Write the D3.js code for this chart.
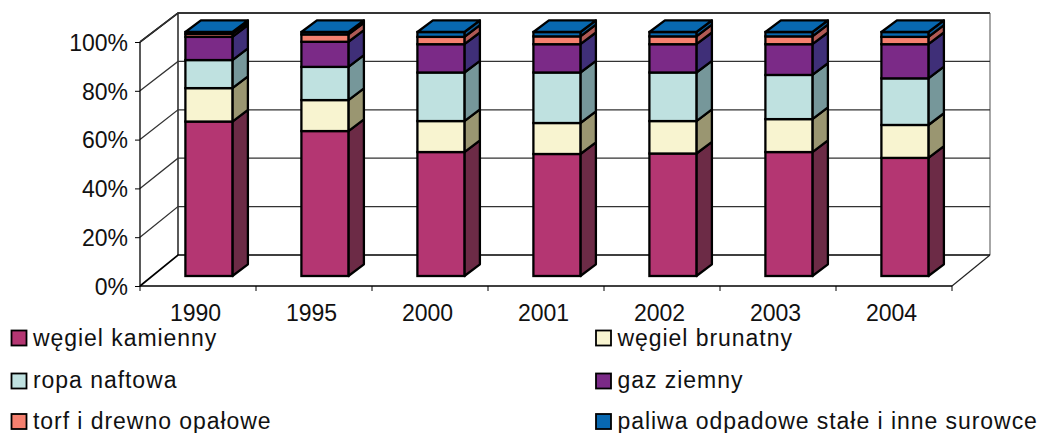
<!DOCTYPE html>
<html><head><meta charset="utf-8">
<script src="https://d3js.org/d3.v7.min.js"></script>
<style>html,body{margin:0;padding:0;background:#fff}svg{display:block}text{font-family:"Liberation Sans",Arial,sans-serif;fill:#111}</style>
</head><body><div id="c"></div>
<script>
const years=["1990","1995","2000","2001","2002","2003","2004"];
const seriesNames=["węgiel kamienny","węgiel brunatny","ropa naftowa","gaz ziemny","torf i drewno opałowe","paliwa odpadowe stałe i inne surowce"];
const wegielKamienny=[63.3,59.4,50.8,50.0,50.2,50.8,48.4];
const wegielBrunatny=[13.7,12.7,12.7,12.7,13.3,13.5,13.5];
const ropaNaftowa=[11.5,13.6,19.9,20.7,19.9,18.1,19.1];
const gazZiemny=[9.5,10.3,11.6,11.6,11.6,12.6,14.0];
const torf=[1.2,3.0,3.0,3.2,3.2,3.2,3.0];
const paliwa=[0.8,1.0,2.0,1.8,1.8,1.8,2.0];
const tickValues=[0,20,40,60,80,100];
const faceColors=["#B43672","#F8F4D0","#BFE1E0","#7B2A87","#F5806F","#0868B0"];
const sideColors=["#6C2B46","#9A9671","#76979A","#3F2F78","#B05A55","#0A5A96"];
const W=1042,H=433;
const svg=d3.select("#c").append("svg").attr("width",W).attr("height",H);
const values=[wegielKamienny,wegielBrunatny,ropaNaftowa,gazZiemny,torf,paliwa];
const table=years.map((y,i)=>{const r={year:y};seriesNames.forEach((s,k)=>r[s]=values[k][i]);return r;});
const stacked=d3.stack().keys(seriesNames)(table);
// axes geometry
const xF=d3.scaleBand().domain(years).range([140,952]);
const yF=d3.scaleLinear().domain([0,100]).range([286,42]);
const yB=d3.scaleLinear().domain([0,100]).range([255,13]);
const yBar=d3.scaleLinear().domain([0,100]).range([276,32]);
const backDx=38,barW=47,barDx=15.5,barDy=11.7;
const barX=y=>xF(y)+45.4;
const g=svg.append("g");
// walls
g.append("path").attr("fill","none").attr("stroke","#000").attr("stroke-width",1.6)
 .attr("d",`M${140},${yF(100)}L${140+backDx},${yB(100)}L${952+backDx},${yB(100)}`);
g.append("line").attr("x1",140+backDx).attr("x2",140+backDx).attr("y1",yB(100)).attr("y2",yB(0)).attr("stroke","#000").attr("stroke-width",1.3);
g.append("line").attr("x1",952+backDx).attr("x2",952+backDx).attr("y1",yB(100)).attr("y2",yB(0)).attr("stroke","#777").attr("stroke-width",1.3);
g.selectAll(".grid").data(tickValues).join("path").attr("class","grid").attr("fill","none")
 .attr("stroke",d=>d===0?"#000":"#333").attr("stroke-width",d=>d===0?1.7:1.3)
 .attr("d",d=>`M140,${yF(d)}L${140+backDx},${yB(d)}L${952+backDx},${yB(d)}`);
g.append("line").attr("x1",952).attr("x2",952+backDx).attr("y1",yF(0)).attr("y2",yB(0)).attr("stroke","#222").attr("stroke-width",1.2);
const font='"Liberation Sans",Arial,sans-serif';
// y axis
const ax=svg.append("g").attr("transform","translate(140,0)").call(d3.axisLeft(yF).tickValues(tickValues).tickSize(5).tickFormat(d=>d+"%"));
ax.select(".domain").attr("stroke","#000").attr("stroke-width",1.3).attr("d",`M0,${yF(100)}V${yF(0)}`);
ax.selectAll("line").attr("stroke","#000");
ax.selectAll("text").attr("font-size",23).attr("x",-12).attr("dy","0.36em").style("font-family",font);
// x axis
const xa=svg.append("g").attr("transform",`translate(0,${yF(0)})`).call(d3.axisBottom(xF).tickSize(0).tickFormat(d=>d));
xa.select(".domain").attr("stroke","#000").attr("stroke-width",1.3).attr("d","M140,0H952");
xa.selectAll("text").attr("font-size",23).attr("x",-2.5).attr("y",35).attr("dy",0).style("font-family",font);
svg.append("g").selectAll("line").data(d3.range(years.length+1)).join("line")
 .attr("x1",i=>140+xF.step()*i).attr("x2",i=>140+xF.step()*i).attr("y1",yF(0)).attr("y2",yF(0)+5).attr("stroke","#000");
// bars
const sw=2.3;
stacked.forEach((s,k)=>{
 const gs=svg.append("g");
 gs.selectAll(".side").data(s).join("path").attr("class","side").attr("fill",sideColors[k]).attr("stroke","#000").attr("stroke-width",sw).attr("stroke-linejoin","round")
  .attr("d",d=>{const x=barX(d.data.year)+barW;return `M${x},${yBar(d[0])}L${x+barDx},${yBar(d[0])-barDy}L${x+barDx},${yBar(d[1])-barDy}L${x},${yBar(d[1])}Z`;});
 gs.selectAll(".face").data(s).join("rect").attr("class","face").attr("fill",faceColors[k]).attr("stroke","#000").attr("stroke-width",sw)
  .attr("x",d=>barX(d.data.year)).attr("width",barW).attr("y",d=>yBar(d[1])).attr("height",d=>yBar(d[0])-yBar(d[1]));
});
svg.append("g").selectAll("path").data(stacked[5]).join("path").attr("fill",faceColors[5]).attr("stroke","#000").attr("stroke-width",sw).attr("stroke-linejoin","round")
 .attr("d",d=>{const x=barX(d.data.year),y=yBar(d[1]);return `M${x},${y}L${x+barDx},${y-barDy}L${x+barW+barDx},${y-barDy}L${x+barW},${y}Z`;});
// legend
const col=[11.5,596],rowY=[346,388,429],swatchY=[330.5,373.5,414];
const lg=svg.append("g").selectAll("g").data(seriesNames).join("g")
 .attr("transform",(d,i)=>`translate(${col[i%2]},${rowY[Math.floor(i/2)]})`);
lg.append("rect").attr("x",0).attr("y",(d,i)=>swatchY[Math.floor(i/2)]-rowY[Math.floor(i/2)]).attr("width",15).attr("height",15).attr("fill",(d,i)=>faceColors[i]).attr("stroke","#000").attr("stroke-width",1.8);
lg.append("text").attr("x",(d,i)=>i%2?21.5:21.5).attr("y",0).attr("font-size",23).attr("letter-spacing",0.95).text(d=>d);
</script></body></html>
